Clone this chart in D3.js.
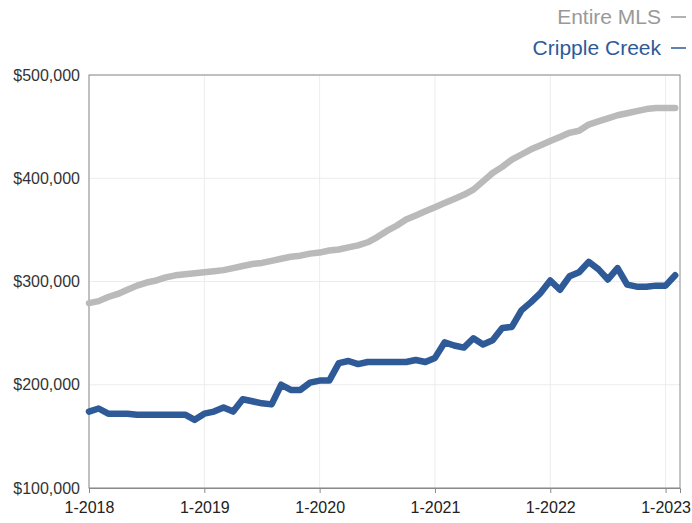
<!DOCTYPE html>
<html>
<head>
<meta charset="utf-8">
<script src="https://cdn.jsdelivr.net/npm/d3@7"></script>
<style>
  html, body { margin: 0; padding: 0; background: #ffffff; }
  svg { display: block; font-family: "Liberation Sans", Arial, Helvetica, sans-serif; }
</style>
</head>
<body>
<svg id="chart" width="692" height="523"></svg>
<script>
// Monthly median sale price, Jan 2018 – Feb 2023 (thousands of dollars)
const months = d3.range(62); // month index from 1-2018
const entireMLS = [
  279, 281, 285, 288, 292, 296, 299, 301, 304, 306, 307, 308,
  309, 310, 311, 313, 315, 317, 318, 320, 322, 324, 325, 327,
  328, 330, 331, 333, 335, 338, 343, 349, 354, 360, 364, 368,
  372, 376, 380, 384, 389, 397, 405, 411, 418, 423, 428, 432,
  436, 440, 444, 446, 452, 455, 458, 461, 463, 465, 467, 468,
  468, 468
];
const crippleCreek = [
  174, 177, 172, 172, 172, 171, 171, 171, 171, 171, 171, 166,
  172, 174, 178, 174, 186, 184, 182, 181, 200, 195, 195, 202,
  204, 204, 221, 223, 220, 222, 222, 222, 222, 222, 224, 222,
  226, 241, 238, 236, 245, 239, 243, 255, 256, 272, 280, 289,
  301, 292, 305, 309, 319, 312, 302, 313, 297, 295, 295, 296,
  296, 306
];
const xTickMonths = [0, 12, 24, 36, 48, 60];
const xTickLabels = ["1-2018", "1-2019", "1-2020", "1-2021", "1-2022", "1-2023"];
const yTicks = [100, 200, 300, 400, 500];
const seriesNames = ["Entire MLS", "Cripple Creek"];

const colors = { mls: "#bababa", cc: "#2e5a98" };

const svg = d3.select("#chart");
const plot = { left: 89, right: 680, top: 75, bottom: 488 };

const x = d3.scaleLinear().domain([0, 61.5]).range([plot.left, plot.right]);
const y = d3.scaleLinear().domain([100, 500]).range([plot.bottom, plot.top]);

// grid
const grid = svg.append("g");
grid.selectAll("line.h").data(yTicks).join("line")
  .attr("x1", plot.left).attr("x2", plot.right)
  .attr("y1", d => y(d)).attr("y2", d => y(d))
  .attr("stroke", "#ececec").attr("stroke-width", 1);
grid.selectAll("line.v").data(xTickMonths).join("line")
  .attr("x1", d => x(d)).attr("x2", d => x(d))
  .attr("y1", plot.top).attr("y2", plot.bottom)
  .attr("stroke", "#ececec").attr("stroke-width", 1);

// frame
svg.append("rect")
  .attr("x", plot.left).attr("y", plot.top)
  .attr("width", plot.right - plot.left).attr("height", plot.bottom - plot.top)
  .attr("fill", "none").attr("stroke", "#8a8a8a").attr("stroke-width", 1);

// y axis labels
const yAxis = d3.axisLeft(y).tickValues(yTicks)
  .tickFormat(d => "$" + d3.format(",")(d * 1000))
  .tickSize(0).tickPadding(9);
svg.append("g").attr("transform", `translate(${plot.left},0)`).call(yAxis)
  .call(g => g.select(".domain").remove())
  .call(g => g.selectAll("text").attr("font-size", 16).attr("fill", "#333")
    .attr("font-family", "'Liberation Sans', Arial, sans-serif"));

// x axis
const xAxis = d3.axisBottom(x).tickValues(xTickMonths)
  .tickFormat((d, i) => xTickLabels[i])
  .tickSize(5).tickPadding(9);
svg.append("g").attr("transform", `translate(0,${plot.bottom})`).call(xAxis)
  .call(g => g.select(".domain").attr("stroke", "#8a8a8a"))
  .call(g => g.selectAll(".tick line").attr("stroke", "#8a8a8a"))
  .call(g => g.selectAll("text").attr("font-size", 16).attr("fill", "#222")
    .attr("font-family", "'Liberation Sans', Arial, sans-serif"));

// lines
const line = d3.line().x((d, i) => x(months[i])).y(d => y(d)).curve(d3.curveLinear);
svg.append("path").datum(entireMLS)
  .attr("d", line).attr("fill", "none")
  .attr("stroke", colors.mls).attr("stroke-width", 6.5)
  .attr("stroke-linejoin", "round").attr("stroke-linecap", "round");
svg.append("path").datum(crippleCreek)
  .attr("d", line).attr("fill", "none")
  .attr("stroke", colors.cc).attr("stroke-width", 6.5)
  .attr("stroke-linejoin", "round").attr("stroke-linecap", "round");

// legend (top right)
const legend = svg.append("g");
const legendItems = [
  { name: seriesNames[0], color: "#999999", yPos: 17 },
  { name: seriesNames[1], color: colors.cc, yPos: 48 }
];
legendItems.forEach(it => {
  legend.append("text")
    .attr("x", 661).attr("y", it.yPos).attr("dy", "0.35em")
    .attr("text-anchor", "end").attr("font-size", 21)
    .attr("fill", it.color).text(it.name);
  legend.append("line")
    .attr("x1", 671).attr("x2", 686)
    .attr("y1", it.yPos).attr("y2", it.yPos)
    .attr("stroke", it.color).attr("stroke-width", 1.5);
});
</script>
</body>
</html>
